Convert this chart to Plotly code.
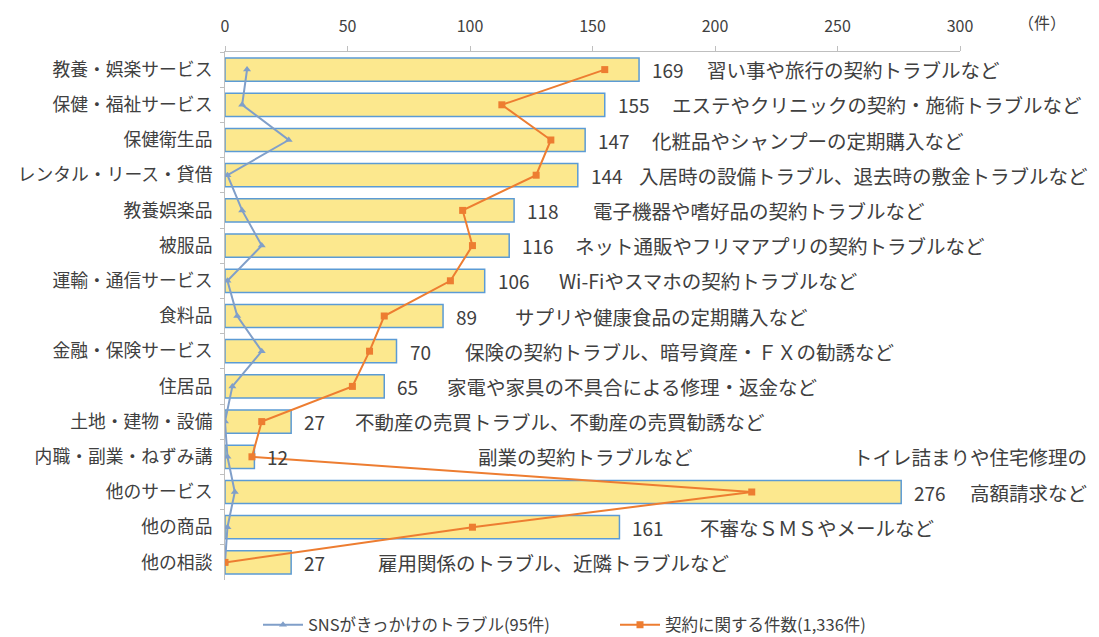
import plotly.graph_objects as go

categories = ["教養・娯楽サービス", "保健・福祉サービス", "保健衛生品", "レンタル・リース・貸借",
              "教養娯楽品", "被服品", "運輸・通信サービス", "食料品", "金融・保険サービス",
              "住居品", "土地・建物・設備", "内職・副業・ねずみ講", "他のサービス", "他の商品", "他の相談"]
totals = [169, 155, 147, 144, 118, 116, 106, 89, 70, 65, 27, 12, 276, 161, 27]
sns_counts = [9, 7, 26, 1, 7, 15, 1, 5, 15, 3, 0, 1, 4, 1, 0]
contract_counts = [155, 113, 133, 127, 97, 101, 92, 65, 59, 52, 15, 11, 215, 101, 0]
notes = ["習い事や旅行の契約トラブルなど", "エステやクリニックの契約・施術トラブルなど",
         "化粧品やシャンプーの定期購入など", "入居時の設備トラブル、退去時の敷金トラブルなど",
         "電子機器や嗜好品の契約トラブルなど", "ネット通販やフリマアプリの契約トラブルなど",
         "Wi-Fiやスマホの契約トラブルなど", "サプリや健康食品の定期購入など",
         "保険の契約トラブル、暗号資産・ＦＸの勧誘など", "家電や家具の不具合による修理・返金など",
         "不動産の売買トラブル、不動産の売買勧誘など", "副業の契約トラブルなど",
         "高額請求など", "不審なＳＭＳやメールなど", "雇用関係のトラブル、近隣トラブルなど"]
extra_note = "トイレ詰まりや住宅修理の"
legend_sns = "SNSがきっかけのトラブル(95件)"
legend_contract = "契約に関する件数(1,336件)"
x_ticks = [0, 50, 100, 150, 200, 250, 300]
unit_label = "（件）"

# layout (pixel positions of note text starts)
ML, MR, MT, MB = 225, 139, 52, 57
W, H = 1099, 637
PW = W - ML - MR
PH = H - MT - MB
note_px = [705, 670, 650, 637, 591, 573, 557, 513, 463, 445, 353, 476, 968, 698, 376]

FONT = "Noto Sans CJK JP"
TXT = "#404040"
NOTE_SIZE = 19.5

fig = go.Figure()
fig.add_trace(go.Bar(
    y=categories, x=totals, orientation="h", width=0.66,
    marker=dict(color="#FCE88E", line=dict(color="#5B9BD5", width=1.5)),
    showlegend=False, hoverinfo="x+y"))
fig.add_trace(go.Scatter(
    y=categories, x=sns_counts, mode="lines+markers", name=legend_sns,
    line=dict(color="#809FC9", width=2),
    marker=dict(symbol="triangle-up", size=7, color="#809FC9")))
fig.add_trace(go.Scatter(
    y=categories, x=contract_counts, mode="lines+markers", name=legend_contract,
    line=dict(color="#ED7D31", width=2),
    marker=dict(symbol="square", size=7, color="#ED7D31")))

annotations = []
for cat, v in zip(categories, totals):
    annotations.append(dict(x=v, y=cat, xref="x", yref="y", text=str(v), showarrow=False,
                            xanchor="left", xshift=11, font=dict(size=19, color=TXT, family=FONT)))
for cat, note, px in zip(categories, notes, note_px):
    annotations.append(dict(x=(px - ML) / PW, y=cat, xref="paper", yref="y", text=note,
                            showarrow=False, xanchor="left",
                            font=dict(size=NOTE_SIZE, color=TXT, family=FONT)))
annotations.append(dict(x=(851 - ML) / PW, y=categories[11], xref="paper", yref="y",
                        text=extra_note, showarrow=False, xanchor="left",
                        font=dict(size=NOTE_SIZE, color=TXT, family=FONT)))
annotations.append(dict(x=(1016 - ML) / PW, y=1 + 30 / PH, xref="paper", yref="paper",
                        text=unit_label, showarrow=False, xanchor="left", yanchor="middle",
                        font=dict(size=16, color=TXT, family=FONT)))

fig.update_layout(
    width=W, height=H, margin=dict(l=ML, r=MR, t=MT, b=MB),
    paper_bgcolor="white", plot_bgcolor="white",
    font=dict(family=FONT, color=TXT),
    xaxis=dict(side="top", range=[0, 300], tickvals=x_ticks, showgrid=False, zeroline=False,
               showline=True, linecolor="#BFBFBF", linewidth=1, ticks="outside", ticklen=5,
               tickcolor="#BFBFBF", tickfont=dict(size=16, color=TXT, family=FONT),
               ticklabelstandoff=8),
    yaxis=dict(categoryorder="array", categoryarray=categories, range=[14.5, -0.5],
               showgrid=False, zeroline=False, showline=True, linecolor="#BFBFBF",
               ticks="outside", ticklen=4, tickcolor="#BFBFBF", tickson="boundaries",
               tickfont=dict(size=17.8, color=TXT, family=FONT), ticklabelstandoff=8),
    legend=dict(orientation="h", x=(615 - ML) / PW, xanchor="center",
                yref="container", y=(H - 625) / H, yanchor="middle",
                font=dict(size=16.5, color=TXT, family=FONT), itemwidth=40,
                entrywidthmode="pixels", entrywidth=302),
    annotations=annotations,
)
fig.write_html("out.html")
